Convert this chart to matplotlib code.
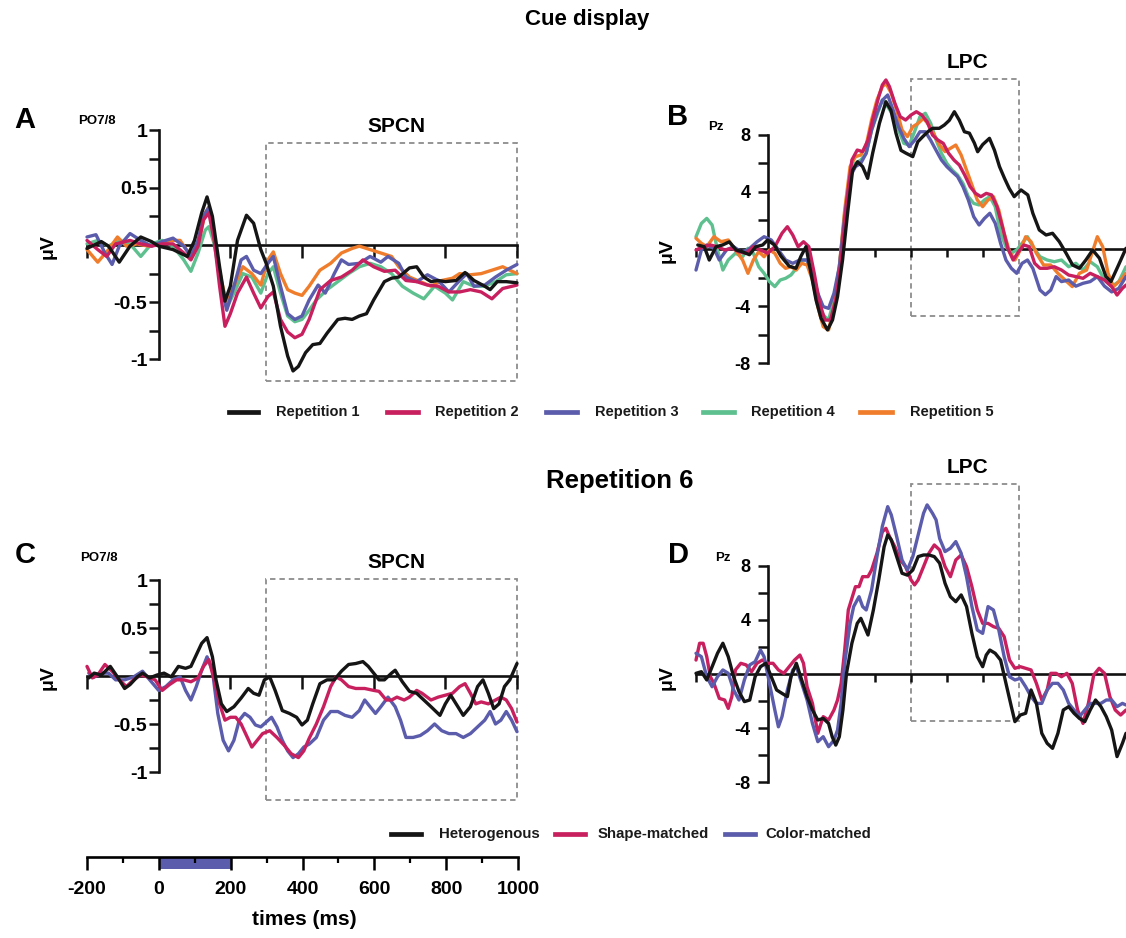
import matplotlib
matplotlib.use("Agg")
import matplotlib.pyplot as plt
from matplotlib.patches import Rectangle
from matplotlib.lines import Line2D
from matplotlib.ticker import FixedLocator

plt.rcParams["font.family"] = ["Liberation Sans", "DejaVu Sans"]
plt.rcParams["axes.unicode_minus"] = False

# ---------------------------------------------------------------- data
# Panel A: cue display, PO7/8 contralateral-minus-ipsilateral (uV)
a_rep1_t = [-200, -160, -140, -110, -80, -50, -20, 0, 40, 80, 100, 120, 135, 150, 170, 185, 200, 220, 245, 265,
            285, 300, 320, 340, 360, 375, 390, 410, 430, 450, 470, 500, 520, 540, 560, 580, 600, 630, 650, 670,
            700, 720, 740, 760, 780, 800, 830, 855, 880, 910, 925, 945, 970, 1000]
a_rep1_v = [-0.03, 0.03, -0.01, -0.15, -0.01, 0.07, 0.03, -0.01, -0.04, -0.10, 0.04, 0.28, 0.42, 0.25, -0.19, -0.49,
            -0.36, 0.04, 0.26, 0.19, -0.04, -0.16, -0.36, -0.71, -0.97, -1.10, -1.06, -0.94, -0.87, -0.86, -0.77,
            -0.65, -0.64, -0.65, -0.62, -0.60, -0.48, -0.32, -0.29, -0.28, -0.20, -0.19, -0.28, -0.32, -0.31, -0.32,
            -0.31, -0.24, -0.31, -0.36, -0.39, -0.32, -0.32, -0.33]
a_rep2_t = [-200, -170, -145, -120, -80, -50, -20, 10, 40, 70, 90, 110, 125, 140, 155, 170, 185, 200, 220, 245,
            265, 285, 305, 320, 340, 360, 380, 400, 420, 450, 480, 510, 540, 570, 600, 630, 660, 690, 720, 750,
            780, 810, 840, 870, 900, 930, 960, 1000]
a_rep2_v = [0.04, -0.04, -0.10, 0.01, 0.04, 0.01, -0.01, 0.01, 0.01, -0.07, -0.13, -0.01, 0.22, 0.28, 0.04, -0.36,
            -0.71, -0.60, -0.42, -0.28, -0.42, -0.55, -0.45, -0.41, -0.65, -0.76, -0.81, -0.78, -0.65, -0.39, -0.31,
            -0.28, -0.22, -0.13, -0.19, -0.23, -0.22, -0.31, -0.32, -0.35, -0.36, -0.41, -0.41, -0.39, -0.41, -0.47,
            -0.38, -0.35]
a_rep3_t = [-200, -175, -150, -130, -110, -80, -50, -20, 10, 40, 70, 90, 110, 125, 140, 155, 175, 190, 210, 230,
            245, 265, 285, 305, 320, 340, 360, 380, 400, 420, 445, 465, 490, 510, 530, 560, 590, 620, 640, 670,
            690, 720, 750, 780, 810, 840, 860, 880, 910, 940, 970, 1000]
a_rep3_v = [0.07, 0.09, -0.07, -0.17, -0.01, 0.10, 0.04, -0.01, 0.03, 0.06, -0.01, -0.10, 0.04, 0.25, 0.33, 0.07,
            -0.36, -0.57, -0.36, -0.13, -0.10, -0.22, -0.25, -0.16, -0.10, -0.36, -0.60, -0.65, -0.62, -0.48, -0.35,
            -0.42, -0.25, -0.13, -0.17, -0.16, -0.10, -0.15, -0.10, -0.16, -0.28, -0.32, -0.26, -0.31, -0.41, -0.31,
            -0.25, -0.36, -0.35, -0.28, -0.22, -0.17]
a_rep4_t = [-200, -170, -140, -110, -80, -50, -20, 10, 40, 70, 90, 110, 130, 140, 155, 175, 190, 210, 235, 260,
            285, 305, 320, 340, 360, 380, 400, 420, 440, 470, 500, 530, 560, 590, 620, 650, 680, 710, 740, 770,
            800, 820, 850, 880, 910, 940, 970, 1000]
a_rep4_v = [0.01, 0.04, -0.01, 0.04, 0.01, -0.10, 0.01, 0.04, -0.01, -0.13, -0.23, -0.07, 0.13, 0.16, 0.01, -0.36,
            -0.55, -0.42, -0.25, -0.28, -0.42, -0.25, -0.19, -0.42, -0.62, -0.67, -0.65, -0.57, -0.48, -0.39, -0.32,
            -0.25, -0.19, -0.16, -0.19, -0.25, -0.36, -0.42, -0.47, -0.36, -0.42, -0.48, -0.32, -0.36, -0.36, -0.32,
            -0.26, -0.25]
a_rep5_t = [-200, -170, -140, -115, -90, -60, -30, 0, 30, 60, 90, 110, 130, 140, 155, 175, 190, 210, 235, 260,
            285, 305, 320, 340, 360, 380, 400, 420, 450, 480, 510, 540, 560, 590, 620, 650, 670, 700, 730, 760,
            790, 820, 840, 870, 900, 930, 960, 1000]
a_rep5_v = [-0.04, -0.15, -0.04, 0.07, -0.01, 0.01, -0.01, 0.01, 0.04, 0.04, -0.10, 0.01, 0.28, 0.33, 0.04, -0.31,
            -0.51, -0.36, -0.19, -0.25, -0.35, -0.13, -0.06, -0.25, -0.39, -0.42, -0.44, -0.36, -0.22, -0.16, -0.07,
            -0.03, -0.01, -0.04, -0.07, -0.10, -0.19, -0.28, -0.32, -0.36, -0.31, -0.29, -0.25, -0.26, -0.25, -0.22,
            -0.19, -0.25]

# Panel B: cue display, Pz (uV)
b_rep1_t = [-195, -177, -163, -144, -126, -107, -88, -70, -51, -33, -14, 0, 19, 37, 60, 79, 93, 107, 121, 135,
            149, 167, 181, 195, 209, 223, 237, 251, 265, 279, 293, 312, 330, 344, 358, 372, 386, 405, 419, 433,
            447, 460, 479, 493, 507, 521, 535, 549, 563, 577, 586, 600, 619, 633, 647, 661, 674, 688, 707, 726,
            740, 758, 777, 795, 814, 833, 851, 870, 888, 907, 926, 944, 958, 977, 1000]
b_rep1_v = [0.28, 0.16, -0.77, 0.16, 0.28, 0.5, -0.07, -0.2, -0.4, 0.16, 0.28, 0.63, 0.28, -0.5, -1.2, -1.35, -0.5,
            0.16, -1.7, -3.57, -4.85, -5.66, -4.96, -3.33, -0.77, 2.5, 5.5, 6.1, 5.76, 4.94, 6.7, 8.8, 10.3, 9.7,
            8.1, 6.9, 6.7, 6.46, 7.5, 7.86, 8.2, 8.44, 8.44, 8.67, 9.0, 9.6, 9.0, 8.2, 8.1, 7.4, 6.8, 7.3, 7.74, 6.9,
            5.76, 4.94, 4.24, 3.66, 4.13, 3.78, 2.5, 1.33, 0.98, 1.1, 0.51, -0.3, -1.12, -1.35, -0.77, -0.07, -0.65,
            -1.93, -2.28, -1.24, 0.05]
b_rep2_t = [-200, -180, -160, -140, -120, -100, -80, -60, -40, -20, 0, 20, 40, 55, 70, 85, 100, 115, 130, 145,
            160, 175, 190, 205, 220, 235, 250, 265, 280, 295, 310, 320, 330, 340, 355, 370, 385, 400, 415, 430,
            445, 460, 475, 490, 505, 520, 535, 550, 565, 580, 595, 610, 625, 640, 655, 670, 685, 700, 715, 730,
            745, 760, 780, 800, 820, 840, 860, 880, 900, 920, 940, 960, 975, 990, 1000]
b_rep2_v = [-0.07, 0.16, 0.28, 0.16, -0.07, 0.05, -0.19, -0.30, 0.16, -0.07, -0.30, 0.16, 1.10, 1.56, 0.98, 0.16,
            0.51, 0.16, -1.70, -3.80, -4.97, -4.97, -3.57, -0.77, 3.19, 6.22, 6.92, 6.81, 7.62, 9.25, 10.65, 11.47,
            11.82, 11.35, 10.19, 9.25, 9.02, 9.37, 9.60, 9.37, 8.90, 7.97, 7.62, 7.39, 6.69, 6.22, 5.87, 5.17, 4.36,
            3.89, 3.66, 3.89, 3.78, 2.96, 1.56, 0.05, -0.77, -0.19, 0.28, 0.16, -1.00, -1.35, -1.35, -1.24, -1.47,
            -1.82, -1.93, -2.05, -1.70, -1.93, -2.17, -2.63, -3.22, -2.75, -2.52]
b_rep3_t = [-200, -185, -170, -150, -135, -115, -95, -75, -55, -30, -10, 10, 30, 50, 70, 90, 110, 125, 140, 155,
            170, 185, 200, 215, 230, 245, 260, 275, 290, 305, 320, 335, 350, 365, 380, 395, 410, 425, 440, 455,
            470, 485, 500, 515, 530, 545, 560, 575, 590, 605, 620, 635, 650, 665, 680, 695, 710, 725, 740, 760,
            775, 790, 805, 820, 840, 860, 880, 900, 920, 940, 960, 980, 1000]
b_rep3_v = [-1.47, -0.07, 0.28, 0.05, -0.77, -0.07, 0.16, -0.19, -0.07, 0.5, 0.86, 0.63, -0.07, -0.77, -1.0, -0.77,
            -0.77, -1.7, -3.1, -4.03, -4.15, -3.1, -1.24, 2.26, 5.06, 5.76, 6.0, 6.7, 8.32, 9.5, 10.4, 10.77, 9.72,
            8.55, 7.74, 7.16, 7.6, 8.2, 8.2, 7.6, 6.9, 6.22, 5.76, 5.4, 5.06, 4.36, 3.43, 2.26, 1.68, 2.14, 2.5, 1.8,
            0.4, -0.77, -1.35, -1.7, -1.0, -0.77, -1.35, -2.87, -3.2, -2.87, -1.93, -2.28, -2.17, -2.6, -2.4, -2.28,
            -1.93, -2.6, -3.0, -2.75, -1.93]
b_rep4_t = [-200, -185, -170, -155, -140, -125, -110, -90, -70, -55, -40, -25, -10, 5, 20, 35, 50, 65, 80, 95,
            110, 125, 140, 155, 170, 185, 200, 215, 230, 245, 260, 275, 290, 305, 320, 335, 350, 365, 380, 395,
            410, 425, 440, 455, 470, 485, 500, 515, 530, 545, 560, 575, 590, 605, 620, 635, 650, 665, 680, 695,
            710, 725, 740, 760, 780, 800, 820, 840, 860, 880, 900, 920, 940, 960, 980, 1000]
b_rep4_v = [0.86, 1.79, 2.14, 1.68, -0.07, -1.47, -0.77, -0.30, -0.54, 0.05, -0.30, -1.24, -1.70, -2.28, -2.63,
            -2.17, -2.05, -1.82, -1.35, -0.77, -0.77, -1.93, -3.57, -4.62, -4.97, -3.57, -1.24, 2.49, 5.29, 5.99,
            6.22, 6.69, 8.32, 9.37, 10.42, 9.95, 9.37, 8.32, 7.39, 7.27, 8.21, 9.25, 9.49, 8.79, 7.62, 6.69, 5.99,
            5.52, 5.17, 4.59, 3.66, 3.19, 3.08, 3.43, 3.66, 2.96, 1.10, 0.16, -0.30, -0.07, 0.40, 0.86, 0.16, -0.54,
            -0.77, -0.89, -0.77, -1.24, -1.00, -1.47, -0.89, -1.24, -2.17, -2.63, -2.28, -1.24]
b_rep5_t = [-200, -185, -170, -150, -130, -110, -90, -70, -55, -40, -25, -10, 5, 20, 35, 50, 65, 80, 95, 110,
            125, 140, 155, 170, 185, 200, 215, 230, 245, 260, 275, 290, 305, 320, 330, 345, 360, 375, 390, 405,
            420, 435, 450, 465, 480, 495, 510, 525, 540, 555, 570, 585, 600, 615, 630, 645, 660, 675, 690, 705,
            720, 735, 750, 770, 790, 810, 830, 850, 870, 890, 905, 920, 935, 950, 965, 985, 1000]
b_rep5_v = [0.75, 0.40, 0.16, 0.86, 0.51, 0.63, -0.07, -0.77, -1.70, -0.77, -0.19, -0.54, -0.07, -0.30, -1.00,
            -1.35, -1.24, -1.47, -1.00, -1.12, -2.17, -4.03, -5.43, -5.66, -4.03, -1.24, 2.73, 5.76, 6.46, 6.57,
            7.27, 9.02, 10.42, 11.35, 11.59, 10.89, 9.72, 8.32, 7.86, 8.55, 8.79, 9.14, 8.67, 7.97, 7.27, 6.81,
            7.04, 7.27, 6.57, 5.52, 4.48, 3.43, 2.96, 3.43, 3.66, 2.73, 1.10, -0.19, -0.77, -0.07, 0.86, 0.51,
            -0.30, -1.12, -1.12, -1.70, -2.17, -2.63, -1.70, -1.47, -0.30, 0.86, 0.16, -1.70, -2.63, -2.17, -1.70]

# Panel C: repetition 6, PO7/8 (uV)
c_het_t = [-195, -180, -160, -135, -115, -95, -80, -60, -45, -25, -5, 15, 35, 55, 75, 90, 105, 120, 135, 150,
           160, 175, 190, 210, 230, 250, 265, 280, 295, 310, 325, 345, 365, 385, 400, 415, 430, 450, 470, 490,
           510, 530, 550, 570, 585, 600, 615, 630, 650, 660, 680, 700, 720, 740, 760, 785, 800, 815, 830, 850,
           870, 890, 905, 920, 935, 950, 965, 980, 1000]
c_het_v = [-0.02, 0.03, 0.01, 0.10, -0.01, -0.13, -0.09, -0.01, 0.03, -0.02, 0.01, 0.03, -0.01, 0.10, 0.08, 0.10,
           0.22, 0.34, 0.40, 0.20, -0.04, -0.29, -0.37, -0.32, -0.23, -0.13, -0.18, -0.20, -0.04, -0.01, -0.15,
           -0.36, -0.39, -0.43, -0.51, -0.46, -0.29, -0.08, -0.04, -0.04, 0.05, 0.12, 0.13, 0.15, 0.10, 0.03, -0.04,
           -0.04, 0.03, 0.06, -0.06, -0.16, -0.18, -0.25, -0.32, -0.41, -0.29, -0.20, -0.29, -0.41, -0.32, -0.11,
           -0.04, -0.18, -0.34, -0.29, -0.11, -0.04, 0.13]
c_shape_t = [-200, -185, -170, -150, -130, -110, -90, -70, -50, -30, -10, 10, 30, 50, 70, 90, 110, 125, 140, 155,
             170, 185, 200, 215, 230, 245, 260, 275, 290, 310, 330, 350, 370, 390, 405, 420, 440, 460, 480, 495,
             510, 530, 550, 575, 600, 615, 635, 650, 665, 685, 700, 720, 735, 760, 780, 800, 820, 840, 855, 870,
             885, 900, 920, 940, 955, 970, 985, 1000]
c_shape_v = [0.10, -0.02, 0.01, 0.12, 0.05, -0.04, -0.11, -0.04, 0.01, -0.01, -0.04, -0.15, -0.09, -0.04, -0.04,
             -0.06, -0.02, 0.10, 0.17, -0.04, -0.29, -0.46, -0.43, -0.43, -0.50, -0.62, -0.74, -0.67, -0.60, -0.57,
             -0.64, -0.72, -0.81, -0.85, -0.78, -0.65, -0.50, -0.32, -0.11, -0.01, -0.04, -0.11, -0.13, -0.13,
             -0.15, -0.16, -0.25, -0.25, -0.22, -0.25, -0.22, -0.15, -0.18, -0.25, -0.22, -0.20, -0.18, -0.11,
             -0.08, -0.18, -0.29, -0.27, -0.29, -0.25, -0.22, -0.25, -0.34, -0.48]
c_color_t = [-195, -180, -160, -140, -120, -95, -70, -45, -25, 0, 20, 40, 60, 75, 90, 105, 120, 135, 150, 165,
             180, 195, 210, 225, 240, 255, 270, 285, 300, 315, 330, 345, 360, 375, 390, 405, 420, 440, 460, 480,
             500, 520, 540, 560, 575, 590, 605, 620, 640, 660, 675, 690, 710, 730, 750, 770, 790, 810, 830, 850,
             870, 890, 910, 925, 940, 955, 970, 985, 1000]
c_color_v = [0.03, -0.01, 0.03, 0.03, -0.04, -0.04, -0.01, 0.05, -0.04, -0.15, -0.11, -0.04, -0.01, -0.15, -0.25,
             -0.11, 0.06, 0.20, 0.06, -0.39, -0.67, -0.78, -0.67, -0.46, -0.39, -0.43, -0.51, -0.53, -0.48, -0.43,
             -0.53, -0.67, -0.78, -0.85, -0.81, -0.74, -0.71, -0.64, -0.46, -0.37, -0.37, -0.41, -0.43, -0.36,
             -0.25, -0.32, -0.39, -0.32, -0.22, -0.32, -0.46, -0.64, -0.64, -0.62, -0.57, -0.50, -0.57, -0.60,
             -0.60, -0.64, -0.60, -0.53, -0.46, -0.37, -0.50, -0.46, -0.37, -0.46, -0.58]

# Panel D: repetition 6, Pz (uV)
d_het_t = [-200, -185, -170, -155, -140, -125, -110, -95, -80, -65, -50, -35, -20, -5, 10, 25, 40, 55, 65, 80,
           95, 110, 125, 140, 155, 170, 180, 190, 200, 210, 220, 235, 250, 260, 270, 280, 295, 310, 325, 335,
           345, 360, 375, 390, 405, 420, 435, 450, 465, 480, 495, 510, 525, 540, 555, 570, 585, 600, 610, 620,
           635, 650, 665, 680, 690, 705, 720, 735, 750, 765, 780, 795, 810, 825, 840, 855, 870, 885, 900, 915,
           930, 945, 960, 975, 990, 1000]
d_het_v = [0.05, 0.17, -0.44, 0.54, 1.53, 2.27, 1.28, -0.2, -1.3, -2.04, -1.92, -0.2, 0.54, 0.79, -0.2, -1.18,
           -1.43, -1.67, -0.2, 0.79, -0.44, -1.67, -2.66, -3.4, -3.28, -3.65, -4.63, -5.25, -4.63, -2.66, 0.05,
           2.27, 3.74, 4.11, 3.5, 2.88, 4.73, 6.95, 9.4, 10.27, 9.9, 8.67, 7.44, 7.3, 7.68, 8.67, 8.79, 8.79, 8.67,
           8.18, 6.7, 5.71, 5.34, 5.84, 4.98, 3.0, 1.28, 0.54, 1.4, 1.77, 1.53, 1.03, -0.69, -2.41, -3.52, -3.03,
           -2.9, -1.18, -2.17, -4.38, -5.12, -5.49, -4.38, -2.66, -2.41, -2.9, -3.28, -3.52, -2.66, -1.92, -2.41,
           -3.15, -4.14, -6.1, -5.12, -4.38]
d_shape_t = [-200, -190, -180, -170, -160, -150, -135, -120, -110, -100, -90, -75, -60, -45, -30, -15, 0, 15, 30,
             45, 60, 75, 90, 100, 110, 125, 140, 155, 170, 185, 195, 205, 215, 225, 235, 245, 255, 265, 280, 290,
             305, 320, 330, 340, 355, 370, 385, 400, 410, 420, 435, 450, 465, 480, 495, 510, 525, 540, 555, 570,
             585, 600, 615, 630, 645, 660, 675, 690, 705, 720, 735, 750, 765, 780, 790, 805, 820, 835, 850, 865,
             880, 895, 910, 925, 940, 955, 970, 985, 1000]
d_shape_v = [1.03, 2.27, 2.27, 1.28, -0.2, -0.69, -1.8, -1.92, -2.54, -1.67, 0.3, 0.79, 0.67, 0.17, 0.79, 1.03,
             0.79, 0.79, 0.3, 0.05, 0.54, 1.03, 1.4, 0.79, -0.94, -2.17, -4.38, -3.15, -3.4, -2.66, -1.92, -0.69,
             1.77, 4.73, 5.59, 6.45, 6.45, 7.19, 7.19, 7.68, 8.92, 10.5, 10.76, 10.15, 9.4, 8.42, 7.93, 6.95, 6.58,
             6.95, 7.93, 8.92, 9.53, 9.16, 7.93, 7.19, 8.42, 8.79, 7.93, 6.45, 4.73, 3.74, 3.74, 3.5, 3.37, 2.76,
             1.03, 0.42, 0.54, 0.42, 0.3, -0.69, -1.92, -1.18, 0.05, 0.05, -0.2, 0.05, -0.69, -2.66, -3.65, -2.17,
             -0.07, 0.42, 0.05, -1.67, -2.66, -3.03, -2.66]
d_color_t = [-200, -185, -170, -155, -140, -125, -110, -95, -80, -65, -50, -35, -20, -10, 5, 20, 30, 40, 55, 70,
             80, 95, 110, 125, 140, 155, 170, 185, 195, 205, 215, 230, 240, 255, 265, 275, 290, 305, 320, 335,
             345, 360, 375, 390, 405, 420, 435, 445, 460, 470, 480, 495, 510, 525, 540, 555, 570, 585, 600, 615,
             630, 645, 660, 675, 690, 705, 720, 735, 750, 765, 780, 795, 810, 825, 840, 855, 870, 885, 900, 915,
             930, 945, 960, 975, 990, 1000]
d_color_v = [1.53, 1.28, -0.2, -0.94, -0.2, 0.3, 0.05, -1.18, -1.92, -0.44, 0.67, 0.91, 1.77, 1.28, -0.69, -2.66,
             -3.9, -3.15, -1.18, 0.3, 0.54, -0.69, -1.92, -3.65, -5.0, -4.63, -5.37, -4.88, -4.14, -2.17, 0.79,
             3.74, 4.98, 5.71, 4.98, 4.73, 6.2, 8.67, 10.9, 12.36, 11.75, 10.15, 8.42, 7.68, 8.67, 10.27, 11.87,
             12.49, 11.87, 11.38, 10.0, 9.04, 9.29, 9.78, 8.92, 7.19, 4.98, 3.25, 3.0, 4.98, 4.73, 3.25, 1.28,
             -0.2, -0.44, -0.32, -0.94, -1.67, -2.17, -2.17, -1.18, -0.69, -0.69, -1.18, -2.17, -2.66, -3.15,
             -2.66, -2.17, -2.17, -2.17, -1.92, -1.92, -2.41, -2.17, -2.29]

rep_labels = ["Repetition 1", "Repetition 2", "Repetition 3", "Repetition 4", "Repetition 5"]
cond_labels = ["Heterogenous", "Shape-matched", "Color-matched"]

# analysis windows (ms, uV)
spcn_window = (300, 1000)
lpc_window = (400, 700)
a_box_v = (-1.19, 0.89)
c_box_v = (-1.29, 1.01)
b_box_v = (-4.66, 11.9)
d_box_v = (-3.45, 14.0)
stim_on, stim_off = 0, 200

# ---------------------------------------------------------------- style
C_BLACK = "#151515"
C_RED = "#C8205E"
C_BLUE = "#5B5CAB"
C_GREEN = "#5EC08F"
C_ORANGE = "#F07D2B"
rep_colors = [C_BLACK, C_RED, C_BLUE, C_GREEN, C_ORANGE]
cond_colors = [C_BLACK, C_RED, C_BLUE]
BOX_COLOR = "#8c8c8c"
LW = 2.4

W, H = 1126, 938
fig = plt.figure(figsize=(W / 100, H / 100), dpi=100)
fig.patch.set_facecolor("white")


def fx(x):
    return x / W


def fy(y):
    return 1 - y / H


def px_rect(x0, x1, y_top, y_bot):
    return [x0 / W, 1 - y_bot / H, (x1 - x0) / W, (y_bot - y_top) / H]


def erp_axes(rect, ylim, span, major, minor, xticks, xtick_len, ytick_len, ypad, ysize):
    ax = fig.add_axes(rect)
    ax.set_xlim(-200, 1000)
    ax.set_ylim(*ylim)
    ax.patch.set_alpha(0)
    for s in ("top", "right"):
        ax.spines[s].set_visible(False)
    ax.spines["left"].set_position(("data", 0))
    ax.spines["bottom"].set_position(("data", 0))
    ax.spines["left"].set_bounds(*span)
    ax.spines["bottom"].set_bounds(-200, 1000)
    for s in ("left", "bottom"):
        ax.spines[s].set_linewidth(1.9)
        ax.spines[s].set_color("#111111")
        ax.spines[s].set_zorder(2)
    ax.set_yticks(major)
    ax.set_yticklabels([f"{v:g}" for v in major], fontweight="bold")
    ax.yaxis.set_minor_locator(FixedLocator(minor))
    ax.set_xticks(xticks)
    ax.set_xticklabels([])
    ax.tick_params(axis="y", which="both", direction="out", length=ytick_len, width=1.8,
                   labelsize=ysize, pad=ypad, color="#111111")
    ax.tick_params(axis="x", direction="out", length=xtick_len, width=1.8, color="#111111")
    return ax


def window_box(ax, xr, yr):
    ax.add_patch(Rectangle((xr[0], yr[0]), xr[1] - xr[0], yr[1] - yr[0], fill=False,
                           edgecolor=BOX_COLOR, linewidth=1.3, linestyle=(0, (3, 2.2)),
                           zorder=1, clip_on=False))


def curve(ax, t, v, color, z):
    ax.plot(t, v, color=color, lw=LW, solid_joinstyle="round", solid_capstyle="round",
            zorder=z, clip_on=False)


spcn_ticks = [-200, 200, 400, 600, 800, 1000]
lpc_ticks = [-200, 300, 400, 500, 600]

# ---------------------------------------------------------------- panel A
ax_a = erp_axes(px_rect(87, 517, 245 - 1.05 * 114.5, 245 + 1.3 * 114.5), (-1.3, 1.05), (-1, 1),
                [-1, -0.5, 0.5, 1], [-0.75, -0.25, 0.25, 0.75], spcn_ticks, 9, 7, 1.2, 14)
window_box(ax_a, spcn_window, a_box_v)
curve(ax_a, a_rep4_t, a_rep4_v, C_GREEN, 3)
curve(ax_a, a_rep5_t, a_rep5_v, C_ORANGE, 3.1)
curve(ax_a, a_rep3_t, a_rep3_v, C_BLUE, 3.2)
curve(ax_a, a_rep2_t, a_rep2_v, C_RED, 3.3)
curve(ax_a, a_rep1_t, a_rep1_v, C_BLACK, 3.4)

# ---------------------------------------------------------------- panel B
ax_b = erp_axes(px_rect(696, 1126, 249 - 13 * 14.3, 249 + 9 * 14.3), (-9, 13), (-8, 8),
                [-8, -4, 4, 8], [-6, -2, 2, 6], lpc_ticks, 6, 7, 5.5, 13)
window_box(ax_b, lpc_window, b_box_v)
curve(ax_b, b_rep4_t, b_rep4_v, C_GREEN, 3)
curve(ax_b, b_rep5_t, b_rep5_v, C_ORANGE, 3.1)
curve(ax_b, b_rep3_t, b_rep3_v, C_BLUE, 3.2)
curve(ax_b, b_rep2_t, b_rep2_v, C_RED, 3.3)
curve(ax_b, b_rep1_t, b_rep1_v, C_BLACK, 3.4)

# ---------------------------------------------------------------- panel C
ax_c = erp_axes(px_rect(87, 517, 676 - 1.1 * 96, 676 + 1.4 * 96), (-1.4, 1.1), (-1, 1),
                [-1, -0.5, 0.5, 1], [-0.75, -0.25, 0.25, 0.75], spcn_ticks, 9, 7, 1.2, 14)
window_box(ax_c, spcn_window, c_box_v)
curve(ax_c, c_color_t, c_color_v, C_BLUE, 3.1)
curve(ax_c, c_shape_t, c_shape_v, C_RED, 3.2)
curve(ax_c, c_het_t, c_het_v, C_BLACK, 3.4)

# ---------------------------------------------------------------- panel D
ax_d = erp_axes(px_rect(696, 1126, 674 - 15 * 13.54, 674 + 9 * 13.54), (-9, 15), (-8, 8),
                [-8, -4, 4, 8], [-6, -2, 2, 6], lpc_ticks, 6, 7, 5.5, 13)
window_box(ax_d, lpc_window, d_box_v)
curve(ax_d, d_shape_t, d_shape_v, C_RED, 3.1)
curve(ax_d, d_color_t, d_color_v, C_BLUE, 3.2)
curve(ax_d, d_het_t, d_het_v, C_BLACK, 3.4)

# ---------------------------------------------------------------- time axis
ax_t = fig.add_axes(px_rect(87, 518, 857, 869))
ax_t.set_xlim(-200, 1000)
ax_t.set_ylim(0, 1)
ax_t.patch.set_alpha(0)
for s in ("left", "right", "top"):
    ax_t.spines[s].set_visible(False)
ax_t.spines["bottom"].set_position(("axes", 1.0))
ax_t.spines["bottom"].set_linewidth(1.9)
ax_t.set_yticks([])
ax_t.set_xticks(list(range(-200, 1001, 200)))
ax_t.set_xticklabels([str(v) for v in range(-200, 1001, 200)], fontweight="bold")
ax_t.xaxis.set_minor_locator(FixedLocator(list(range(-100, 1000, 200))))
ax_t.tick_params(axis="x", which="major", direction="out", length=9, width=1.8, labelsize=14, pad=8)
ax_t.tick_params(axis="x", which="minor", direction="out", length=4.5, width=1.6)
ax_t.axvspan(stim_on, stim_off, ymin=0, ymax=1, color=C_BLUE, lw=0)
fig.text(fx(304), fy(919), "times (ms)", ha="center", va="center", fontsize=15, fontweight="bold")

# ---------------------------------------------------------------- titles and labels
fig.text(fx(587), fy(20), "Cue display", ha="center", va="center", fontsize=16, fontweight="bold")
fig.text(fx(620), fy(481), "Repetition 6", ha="center", va="center", fontsize=18.5, fontweight="bold")

for letter, (x, y) in zip("ABCD", [(25, 120), (678, 117), (25, 555), (678, 555)]):
    fig.text(fx(x), fy(y), letter, ha="center", va="center", fontsize=21, fontweight="bold")
for name, (x, y) in zip(["PO7/8", "Pz", "PO7/8", "Pz"], [(97, 121), (716, 127), (99, 558), (723, 558)]):
    fig.text(fx(x), fy(y), name, ha="center", va="center", fontsize=9.5, fontweight="bold")
for name, (x, y) in zip(["SPCN", "LPC", "SPCN", "LPC"], [(396, 126), (967, 62), (396, 562), (967, 467)]):
    fig.text(fx(x), fy(y), name, ha="center", va="center", fontsize=15, fontweight="bold")
for x, y in [(48, 247), (667, 251), (48, 678), (667, 678)]:
    fig.text(fx(x), fy(y), "μV", ha="center", va="center", fontsize=14, fontweight="bold", rotation=90)

# ---------------------------------------------------------------- legends
rep_key_x = [(229, 258), (387, 418), (546, 577), (703, 734), (860, 892)]
rep_text_x = [276, 435, 595, 751, 910]
for (x0, x1), tx, col, lab in zip(rep_key_x, rep_text_x, rep_colors, rep_labels):
    fig.add_artist(Line2D([fx(x0), fx(x1)], [fy(412), fy(412)], color=col, lw=3.4,
                          transform=fig.transFigure))
    fig.text(fx(tx), fy(412), lab, ha="left", va="center", fontsize=10.5, fontweight="bold", color="#1a1a1a")

cond_key_x = [(391, 421), (555, 585), (725, 755)]
cond_text_x = [439, 598, 765]
for (x0, x1), tx, col, lab in zip(cond_key_x, cond_text_x, cond_colors, cond_labels):
    fig.add_artist(Line2D([fx(x0), fx(x1)], [fy(834), fy(834)], color=col, lw=3.4,
                          transform=fig.transFigure))
    fig.text(fx(tx), fy(834), lab, ha="left", va="center", fontsize=10.8, fontweight="bold", color="#1a1a1a")

fig.savefig("out.png", dpi=100, facecolor="white")
